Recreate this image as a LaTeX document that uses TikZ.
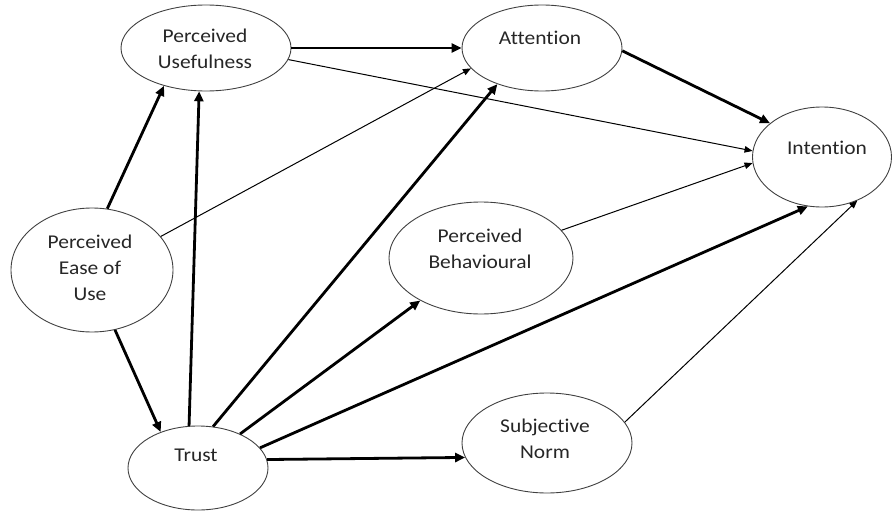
\documentclass[tikz,border=0pt]{standalone}
\usepackage{fontspec}
\setmainfont{Carlito}[FakeStretch=1.1,Ligatures={NoCommon,NoRequired,NoContextual}]
\usetikzlibrary{shapes.geometric,arrows.meta}
\begin{document}
\begin{tikzpicture}[x=1pt,y=-1pt,
  ent/.style={ellipse, draw=black!75, line width=0.9pt, inner sep=0pt},
  lbl/.style={align=center, inner sep=0pt, text=black!85, font=\fontsize{19.5}{26}\selectfont},
  strong/.style={line width=2.8pt, -{Triangle[length=10pt,width=9pt]}},
  weak/.style={line width=1pt, -{Triangle[length=8pt,width=6.5pt]}}]
\useasboundingbox (0,0) rectangle (892,511);
% ellipses
\node[ent, minimum width=170pt, minimum height=86pt] (pu) at (206,48) {};
\node[ent, minimum width=160pt, minimum height=86pt] (att) at (542,48) {};
\node[ent, minimum width=139pt, minimum height=100pt] (int) at (822,157) {};
\node[ent, minimum width=162pt, minimum height=124pt] (peu) at (92,270) {};
\node[ent, minimum width=184pt, minimum height=112pt] (pb) at (481,258) {};
\node[ent, minimum width=140pt, minimum height=84pt] (tr) at (198,468) {};
\node[ent, minimum width=170pt, minimum height=100pt] (sn) at (547,443) {};
% texts
\node[lbl] (tpu) at (205,49) {Perceived\\Usefulness};
\node[lbl] (tatt) at (540,38) {Attention};
\node[lbl] (tint) at (827,148) {Intention};
\node[lbl] (tpeu) at (90,268) {Perceived\\Ease of\\Use};
\node[lbl] (tpb) at (480,249) {Perceived\\Behavioural};
\node[lbl] (ttr) at (196,455) {Trust};
\node[lbl] (tsn) at (545,439) {Subjective\\Norm};
% connectors
\draw[strong] (pu.0) -- (att.180);
\draw[weak] (pu.-8.7) -- (int.175);
\draw[strong] (att.-2) -- (int.147.6);
\draw[strong] (peu.76.4) -- (pu.222.3);
\draw[strong] (tr.102) -- (pu.261);
\draw[weak] (peu.26.9) -- (att.196.6);
\draw[strong] (tr.70.3) -- (att.219);
\draw[strong] (peu.291.2) -- (tr.136.5);
\draw[strong] (tr.39.9) -- (pb.215);
\draw[strong] (tr.18.4) -- (int.254.6);
\draw[strong] (tr.7.3) -- (sn.190.8);
\draw[weak] (pb.19.5) -- (int.185.6);
\draw[weak] (sn.15) -- (int.309);
\end{tikzpicture}
\end{document}
